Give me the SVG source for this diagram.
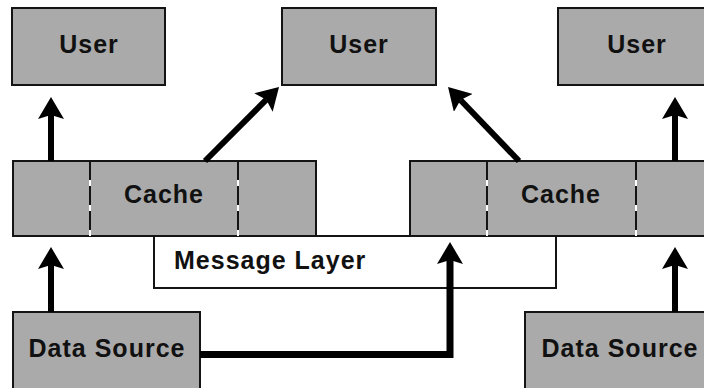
<svg xmlns="http://www.w3.org/2000/svg" width="704" height="388" viewBox="0 0 704 388">
  <style>
    .box { fill: #aaaaaa; stroke: #141414; stroke-width: 2; }
    .msg { fill: #ffffff; stroke: #141414; stroke-width: 2; }
    .lbl { font-family: "Liberation Sans", Arial, sans-serif; font-weight: bold; font-size: 25px; letter-spacing: 1px; fill: #111111; }
    .mid { text-anchor: middle; }
    .div-bg { stroke: #ffffff; stroke-width: 2; }
    .div { stroke: #141414; stroke-width: 2; stroke-dasharray: 19 6; }
    .arrow { fill: none; stroke: #000000; stroke-width: 6; marker-end: url(#head); }
  </style>
  <defs>
    <marker id="head" markerUnits="userSpaceOnUse" viewBox="0 0 22 26" refX="4" refY="13" markerWidth="22" markerHeight="26" orient="auto">
      <path d="M0,0 L22,13 L0,26 L4,13 z" fill="#000000"/>
    </marker>
  </defs>

  <rect width="704" height="388" fill="#ffffff"/>

  <!-- message layer sits beneath both caches -->
  <g id="message-layer">
    <rect class="msg" x="154" y="236" width="402" height="52"/>
    <text class="lbl" x="174" y="269">Message Layer</text>
  </g>

  <g id="user-1">
    <rect class="box" x="12" y="8" width="153" height="77"/>
    <text class="lbl mid" x="89" y="53">User</text>
  </g>
  <g id="user-2">
    <rect class="box" x="282" y="8" width="154" height="77"/>
    <text class="lbl mid" x="359" y="53">User</text>
  </g>
  <g id="user-3">
    <rect class="box" x="558" y="8" width="158" height="77"/>
    <text class="lbl mid" x="637" y="53">User</text>
  </g>

  <g id="cache-1">
    <rect class="box" x="13" y="161" width="303" height="75"/>
    <line class="div-bg" x1="90" y1="161" x2="90" y2="236"/>
    <line class="div" x1="90" y1="161" x2="90" y2="236"/>
    <line class="div-bg" x1="238" y1="161" x2="238" y2="236"/>
    <line class="div" x1="238" y1="161" x2="238" y2="236"/>
    <text class="lbl mid" x="164" y="203">Cache</text>
  </g>
  <g id="cache-2">
    <rect class="box" x="410" y="161" width="306" height="75"/>
    <line class="div-bg" x1="487" y1="161" x2="487" y2="236"/>
    <line class="div" x1="487" y1="161" x2="487" y2="236"/>
    <line class="div-bg" x1="636" y1="161" x2="636" y2="236"/>
    <line class="div" x1="636" y1="161" x2="636" y2="236"/>
    <text class="lbl mid" x="561" y="203">Cache</text>
  </g>

  <g id="data-source-1">
    <rect class="box" x="13" y="312" width="187" height="80"/>
    <text class="lbl mid" x="107" y="357">Data Source</text>
  </g>
  <g id="data-source-2">
    <rect class="box" x="525" y="312" width="190" height="80"/>
    <text class="lbl mid" x="620" y="357">Data Source</text>
  </g>

  <g id="connectors">
    <path class="arrow" d="M51,161 V115"/>
    <path class="arrow" d="M205,161 L266.3,99.7"/>
    <path class="arrow" d="M519,161 L460.5,100"/>
    <path class="arrow" d="M675,161 V115"/>
    <path class="arrow" d="M51,312 V265"/>
    <path class="arrow" d="M675,312 V265"/>
    <path class="arrow" style="stroke-width:7" d="M200,354.5 H450 V260"/>
  </g>
</svg>
